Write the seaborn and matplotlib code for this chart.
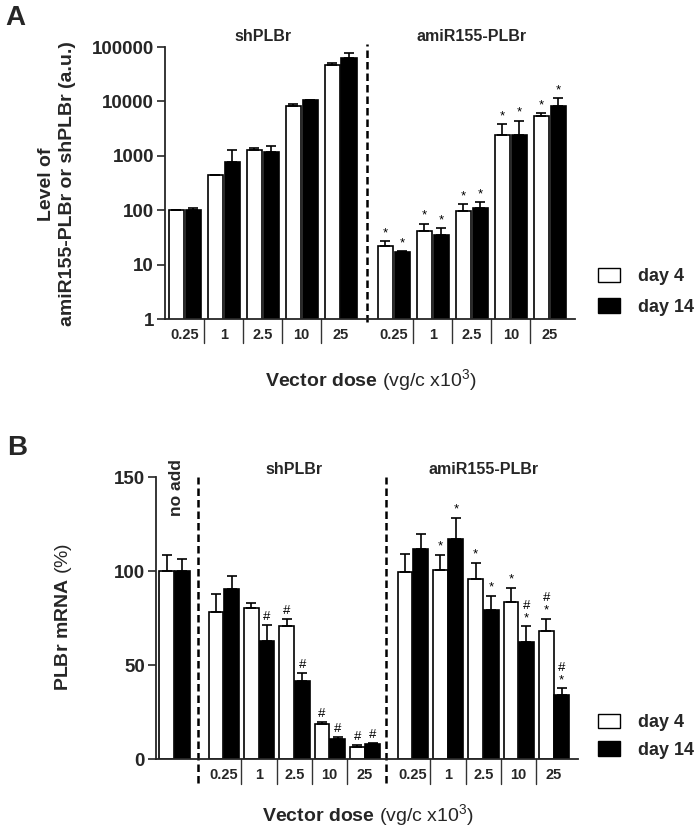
import numpy as np
import pandas as pd
import matplotlib
matplotlib.use("Agg")
import matplotlib.pyplot as plt
import matplotlib.transforms as mtransforms
from matplotlib.patches import Patch
import seaborn as sns

# ---------------- data ----------------
doses = ["0.25", "1", "2.5", "10", "25"]
days = ["day 4", "day 14"]
groups = ["shPLBr", "amiR155-PLBr"]

# Panel A (log scale, a.u.)
a_sh_d4 = [100, 444, 1270, 8200, 46800]
a_sh_d4_err = [2, 8, 110, 700, 4200]
a_sh_d14 = [100, 770, 1170, 10500, 63000]
a_sh_d14_err = [10, 490, 340, 200, 14000]
a_ami_d4 = [22, 41.5, 97, 2400, 5400]
a_ami_d4_err = [5, 14.5, 32, 1400, 700]
a_ami_d14 = [17, 35, 112, 2400, 8200]
a_ami_d14_err = [0.5, 12, 28, 2000, 3300]
a_sh_d4_sig = ["", "", "", "", ""]
a_sh_d14_sig = ["", "", "", "", ""]
a_ami_d4_sig = ["*", "*", "*", "*", "*"]
a_ami_d14_sig = ["*", "*", "*", "*", "*"]

# Panel B (PLBr mRNA %)
b_noadd = [100, 100]
b_noadd_err = [8.7, 6.6]
b_sh_d4 = [78.2, 80.5, 70.5, 18.7, 6.6]
b_sh_d4_err = [9.6, 2.3, 3.9, 1.2, 0.7]
b_sh_d14 = [90.6, 62.9, 41.7, 10.8, 8.2]
b_sh_d14_err = [6.9, 8.5, 4.0, 0.8, 0.3]
b_ami_d4 = [99.5, 100.7, 95.6, 83.7, 67.9]
b_ami_d4_err = [9.4, 7.9, 8.7, 7.3, 6.7]
b_ami_d14 = [111.8, 117.1, 79.1, 62.5, 34.3]
b_ami_d14_err = [8.1, 11.2, 7.8, 8.0, 3.4]
b_sh_d4_sig = ["", "", "#", "#", "#"]
b_sh_d14_sig = ["", "#", "#", "#", "#"]
b_ami_d4_sig = ["", "*", "*", "*", "#\n*"]
b_ami_d14_sig = ["", "*", "*", "#\n*", "#\n*"]

# ---------------- style ----------------
sns.set_theme(style="ticks")
plt.rcParams["font.family"] = ["Liberation Sans", "DejaVu Sans"]
plt.rcParams["mathtext.fontset"] = "custom"
plt.rcParams["mathtext.rm"] = "Liberation Sans"
plt.rcParams["mathtext.bf"] = "Liberation Sans:bold"
plt.rcParams["mathtext.it"] = "Liberation Sans:italic"

palette = {"day 4": "white", "day 14": "black"}

# layout positions (group index with extra gaps between sets)
posA_sh = np.arange(5) + 0.0
posA_ami = np.arange(5) + 5.37
posB_noadd = 0.0
posB_sh = np.arange(5) + 1.4
posB_ami = np.arange(5) + 6.75


def build(rows):
    return pd.DataFrame(rows, columns=["pos", "day", "value", "err", "sig"])


rowsA = []
for i in range(5):
    rowsA.append((posA_sh[i], "day 4", a_sh_d4[i], a_sh_d4_err[i], a_sh_d4_sig[i]))
    rowsA.append((posA_sh[i], "day 14", a_sh_d14[i], a_sh_d14_err[i], a_sh_d14_sig[i]))
for i in range(5):
    rowsA.append((posA_ami[i], "day 4", a_ami_d4[i], a_ami_d4_err[i], a_ami_d4_sig[i]))
    rowsA.append((posA_ami[i], "day 14", a_ami_d14[i], a_ami_d14_err[i], a_ami_d14_sig[i]))
dfA = build(rowsA)

rowsB = [(posB_noadd, "day 4", b_noadd[0], b_noadd_err[0], ""),
         (posB_noadd, "day 14", b_noadd[1], b_noadd_err[1], "")]
for i in range(5):
    rowsB.append((posB_sh[i], "day 4", b_sh_d4[i], b_sh_d4_err[i], b_sh_d4_sig[i]))
    rowsB.append((posB_sh[i], "day 14", b_sh_d14[i], b_sh_d14_err[i], b_sh_d14_sig[i]))
for i in range(5):
    rowsB.append((posB_ami[i], "day 4", b_ami_d4[i], b_ami_d4_err[i], b_ami_d4_sig[i]))
    rowsB.append((posB_ami[i], "day 14", b_ami_d14[i], b_ami_d14_err[i], b_ami_d14_sig[i]))
dfB = build(rowsB)

fig = plt.figure(figsize=(7, 8.32), dpi=100)
axA = fig.add_axes([165 / 700, 1 - 319 / 832, 410 / 700, 272 / 832])
axB = fig.add_axes([156 / 700, 1 - 759 / 832, 422 / 700, 282 / 832])


def draw_bars(ax, df, width, gap):
    sns.barplot(data=df, x="pos", y="value", hue="day", hue_order=days,
                palette=palette, native_scale=True, errorbar=None,
                width=width, gap=gap, edgecolor="black", linewidth=1.2,
                legend=False, ax=ax)
    patches = sorted(ax.patches, key=lambda p: p.get_x())
    dsort = df.assign(h=df["day"].map({"day 4": 0, "day 14": 1})).sort_values(["pos", "h"])
    for p, (_, r) in zip(patches, dsort.iterrows()):
        cx = p.get_x() + p.get_width() / 2
        top = r["value"]
        ax.errorbar([cx], [top], yerr=[[0], [r["err"]]], fmt="none", ecolor="black",
                    elinewidth=1.2, capsize=3.5, capthick=1.2, zorder=1)
        if r["sig"]:
            ax.annotate(r["sig"], (cx, top + r["err"]), xytext=(0, 1.5),
                        textcoords="offset points", ha="center", va="bottom",
                        fontsize=9.5, linespacing=1.05, color="black")


def style_axis(ax, positions, labels, sep_positions, dash_positions, dash_bottom, dash_top):
    for s in ["top", "right"]:
        ax.spines[s].set_visible(False)
    ax.spines["left"].set_linewidth(1.3)
    ax.spines["bottom"].set_linewidth(1.3)
    ax.set_xticks(positions)
    ax.set_xticklabels(labels, fontsize=10.5, fontweight="bold")
    ax.tick_params(axis="x", length=0, pad=6.5)
    ax.tick_params(axis="y", direction="out", length=6, width=1.2, labelsize=13.5, pad=2)
    ax.minorticks_off()
    ax.set_xlabel("")
    ax.set_ylabel("")
    trans = mtransforms.blended_transform_factory(ax.transData, ax.transAxes)
    for x in sep_positions:
        ax.plot([x, x], [0, -0.088], transform=trans, clip_on=False, color="#333333", lw=1.0)
    for x in dash_positions:
        ax.plot([x, x], [dash_bottom, dash_top], transform=trans, clip_on=False,
                color="black", lw=1.8, linestyle=(0, (3, 1.6)))


# ---------------- Panel A ----------------
draw_bars(axA, dfA, 0.87, 0.1)
axA.set_yscale("log")
axA.set_ylim(1, 100000)
axA.set_xlim(-0.51, 10.02)
yt = [1, 10, 100, 1000, 10000, 100000]
axA.set_yticks(yt)
axA.set_yticklabels([str(v) for v in yt], fontweight="bold")
sepA = list((posA_sh[:-1] + posA_sh[1:]) / 2) + list((posA_ami[:-1] + posA_ami[1:]) / 2)
style_axis(axA, list(posA_sh) + list(posA_ami), doses + doses, sepA,
           [(posA_sh[-1] + posA_ami[0]) / 2], -0.01, 1.01)
axA.set_yticks(yt)
axA.set_yticklabels([str(v) for v in yt], fontweight="bold")
axA.minorticks_off()
transA = mtransforms.blended_transform_factory(axA.transData, axA.transAxes)
axA.text(posA_sh.mean(), 1.01, groups[0], transform=transA, ha="center", va="bottom",
         fontsize=11.5, fontweight="bold")
axA.text(posA_ami.mean(), 1.01, groups[1], transform=transA, ha="center", va="bottom",
         fontsize=11.5, fontweight="bold")

# ---------------- Panel B ----------------
draw_bars(axB, dfB, 0.88, 0.05)
axB.set_ylim(0, 150)
axB.set_xlim(-0.52, 11.43)
ytB = [0, 50, 100, 150]
sepB = list((posB_sh[:-1] + posB_sh[1:]) / 2) + list((posB_ami[:-1] + posB_ami[1:]) / 2)
style_axis(axB, [posB_noadd] + list(posB_sh) + list(posB_ami), [""] + doses + doses, sepB,
           [(posB_noadd + posB_sh[0]) / 2 - 0.02, (posB_sh[-1] + posB_ami[0]) / 2 - 0.07],
           -0.085, 1.0)
axB.set_yticks(ytB)
axB.set_yticklabels([str(v) for v in ytB], fontweight="bold")
transB = mtransforms.blended_transform_factory(axB.transData, axB.transAxes)
axB.text(posB_sh.mean(), 1.0, groups[0], transform=transB, ha="center", va="bottom",
         fontsize=11.5, fontweight="bold")
axB.text(posB_ami.mean(), 1.0, groups[1], transform=transB, ha="center", va="bottom",
         fontsize=11.5, fontweight="bold")
axB.text(posB_noadd + 0.07, 144.5, "no add", rotation=90, ha="center", va="center",
         fontsize=12.5, fontweight="bold")

# ---------------- labels ----------------
fig.text(57 / 700, 1 - 184 / 832, "Level of\namiR155-PLBr or shPLBr (a.u.)", rotation=90,
         ha="center", va="center", multialignment="center", fontsize=14,
         fontweight="bold", linespacing=1.25)
fig.text(63 / 700, 1 - 617 / 832, r"$\mathbf{PLBr\ mRNA}$ (%)", rotation=90,
         ha="center", va="center", fontsize=14)
xlab = r"$\mathbf{Vector\ dose}$ (vg/c x10$^{3}$)"
fig.text(371 / 700, 1 - 380 / 832, xlab, ha="center", va="center", fontsize=14)
fig.text(368 / 700, 1 - 815 / 832, xlab, ha="center", va="center", fontsize=14)
fig.text(5 / 700, 1 - 5 / 832, "A", ha="left", va="top", fontsize=20, fontweight="bold")
fig.text(7 / 700, 1 - 435 / 832, "B", ha="left", va="top", fontsize=20, fontweight="bold")

# ---------------- legends ----------------
handles = [Patch(facecolor="white", edgecolor="black", linewidth=1.0),
           Patch(facecolor="black", edgecolor="black", linewidth=1.0)]
for top_px, spacing in [(268, 0.72), (714, 0.55)]:
    fig.legend(handles=handles, labels=days, loc="upper left",
               bbox_to_anchor=(598 / 700, 1 - top_px / 832), frameon=False,
               prop={"weight": "bold", "size": 13}, handlelength=1.2, handleheight=0.85,
               handletextpad=1.0, labelspacing=spacing, borderpad=0, borderaxespad=0)

fig.savefig("out.png", dpi=100)
